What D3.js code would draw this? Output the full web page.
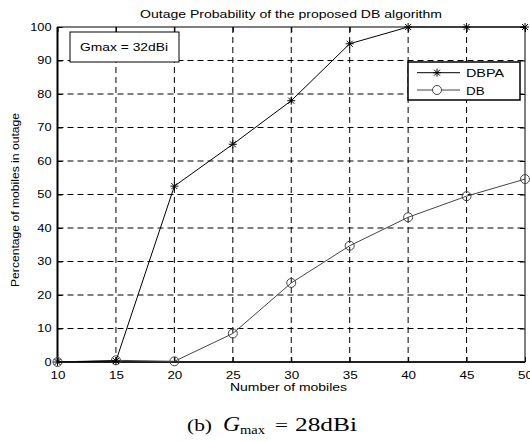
<!DOCTYPE html>
<html lang="en">
  <head>
    <meta charset="utf-8">
    <title>Outage Probability</title>
    <script src="https://d3js.org/d3.v7.js"></script>
    <style>
      body { margin: 0; background: #fff; }
    </style>
  </head>
  <body>
    <svg></svg>
  <script>

// data
  const mobiles = [10, 15, 20, 25, 30, 35, 40, 45, 50];
  const dbpa = [0, 0.3, 52.5, 65, 78, 95, 100, 100, 100];
  const db = [0, 0.5, 0.2, 8.5, 23.6, 34.7, 43.2, 49.5, 54.6];
  const xTicks = [10, 15, 20, 25, 30, 35, 40, 45, 50];
  const yTicks = [0, 10, 20, 30, 40, 50, 60, 70, 80, 90, 100];

  const w = 530;
  const h = 442;
  const margin = {top: 27, right: 5, bottom: 80, left: 57.5};
  const innerWidth = w - margin.left - margin.right;
  const innerHeight = h - margin.top - margin.bottom;
  const sans = "Arial, 'Liberation Sans', sans-serif";
  const serif = "'Liberation Serif', 'Times New Roman', serif";

  const svg = d3.select("svg")
      .attr("width", w)
      .attr("height", h)
      .style("font-family", sans);

  // the original picture is a bit stretched sideways, so widen the text
  function stretch(sel, k) {
    sel.each(function() {
      const len = this.getComputedTextLength();
      if (len > 0) {
        d3.select(this)
            .attr("textLength", len * k)
            .attr("lengthAdjust", "spacingAndGlyphs");
      }
    });
  }

  const xScale = d3.scaleLinear()
      .domain([10, 50])
      .range([0, innerWidth]);

  const yScale = d3.scaleLinear()
      .domain([0, 100])
      .range([innerHeight, 0]);

  const g = svg.append("g")
      .attr("transform", `translate(${margin.left}, ${margin.top})`);

// grid

  g.selectAll(".vgrid")
      .data(xTicks.slice(1, -1))
      .enter().append("line")
      .attr("x1", d => xScale(d)).attr("x2", d => xScale(d))
      .attr("y1", 0).attr("y2", innerHeight)
      .attr("stroke", "#000").attr("stroke-width", 1)
      .attr("stroke-dasharray", "6,4");

  g.selectAll(".hgrid")
      .data(yTicks.slice(1, -1))
      .enter().append("line")
      .attr("x1", 0).attr("x2", innerWidth)
      .attr("y1", d => yScale(d)).attr("y2", d => yScale(d))
      .attr("stroke", "#000").attr("stroke-width", 1)
      .attr("stroke-dasharray", "6,4");

// axes, ticks pointing inwards on all sides

  const xAx = g.append("g")
      .attr("transform", `translate(0, ${innerHeight})`)
      .call(d3.axisBottom(xScale).tickValues(xTicks).tickSize(-5).tickPadding(9));
  const topAx = g.append("g")
      .call(d3.axisTop(xScale).tickValues(xTicks).tickSize(-5));
  const yAx = g.append("g")
      .call(d3.axisLeft(yScale).tickValues(yTicks).tickSize(-5).tickPadding(6));
  const rightAx = g.append("g")
      .attr("transform", `translate(${innerWidth}, 0)`)
      .call(d3.axisRight(yScale).tickValues(yTicks).tickSize(-5));

  topAx.selectAll(".tick text").remove();
  rightAx.selectAll(".tick text").remove();
  g.selectAll(".domain").remove();
  g.selectAll(".tick line").attr("stroke", "#000");
  g.selectAll(".tick text")
      .attr("font-family", sans)
      .attr("fill", "#000");
  xAx.selectAll(".tick text").attr("font-size", 11);
  yAx.selectAll(".tick text").attr("font-size", 10.5);
  stretch(g.selectAll(".tick text"), 1.22);

  g.append("rect")
      .attr("x", 0).attr("y", 0)
      .attr("width", innerWidth).attr("height", innerHeight)
      .attr("fill", "none").attr("stroke", "#000").attr("stroke-width", 1);
  g.append("line")
      .attr("x1", 0).attr("x2", 0).attr("y1", 0).attr("y2", innerHeight)
      .attr("stroke", "#000").attr("stroke-width", 2);
  g.append("line")
      .attr("x1", 0).attr("x2", innerWidth).attr("y1", innerHeight).attr("y2", innerHeight)
      .attr("stroke", "#000").attr("stroke-width", 1.6);

// series

  const line = d3.line()
      .x((d, i) => xScale(mobiles[i]))
      .y(d => yScale(d));

  const starPath = "M-4,0H4M0,-4V4M-3,-3L3,3M-3,3L3,-3";

  g.append("path")
      .datum(db)
      .attr("d", line)
      .attr("fill", "none")
      .attr("stroke", "#444")
      .attr("stroke-width", 1);

  g.selectAll(".dbMark")
      .data(db)
      .enter().append("circle")
      .attr("cx", (d, i) => xScale(mobiles[i]))
      .attr("cy", d => yScale(d))
      .attr("r", 4.5)
      .attr("fill", "none")
      .attr("stroke", "#444")
      .attr("stroke-width", 1);

  g.append("path")
      .datum(dbpa)
      .attr("d", line)
      .attr("fill", "none")
      .attr("stroke", "#000")
      .attr("stroke-width", 1);

  g.selectAll(".dbpaMark")
      .data(dbpa)
      .enter().append("path")
      .attr("transform", (d, i) => `translate(${xScale(mobiles[i])}, ${yScale(d)})`)
      .attr("d", starPath)
      .attr("fill", "none")
      .attr("stroke", "#000")
      .attr("stroke-width", 1);

// Gmax annotation box

  svg.append("rect")
      .attr("x", 70).attr("y", 32)
      .attr("width", 109).attr("height", 30)
      .attr("fill", "#fff").attr("stroke", "#000").attr("stroke-width", 1);
  svg.append("text")
      .attr("x", 80).attr("y", 50.5)
      .attr("font-size", 11)
      .attr("textLength", 88).attr("lengthAdjust", "spacingAndGlyphs")
      .text("Gmax = 32dBi");

// legend

  const legend = svg.append("g")
      .attr("transform", "translate(408, 62)");
  legend.append("rect")
      .attr("width", 112).attr("height", 38)
      .attr("fill", "#fff").attr("stroke", "#000").attr("stroke-width", 1.5);

  legend.append("line")
      .attr("x1", 9).attr("x2", 52).attr("y1", 10.7).attr("y2", 10.7)
      .attr("stroke", "#000");
  legend.append("path")
      .attr("transform", "translate(29, 10.7)")
      .attr("d", starPath)
      .attr("fill", "none").attr("stroke", "#000");
  legend.append("text")
      .attr("x", 58).attr("y", 15)
      .attr("font-size", 11)
      .attr("textLength", 38).attr("lengthAdjust", "spacingAndGlyphs")
      .text("DBPA");

  legend.append("line")
      .attr("x1", 9).attr("x2", 52).attr("y1", 28).attr("y2", 28)
      .attr("stroke", "#444");
  legend.append("circle")
      .attr("cx", 29).attr("cy", 28).attr("r", 4.5)
      .attr("fill", "#fff").attr("stroke", "#444");
  legend.append("text")
      .attr("x", 58).attr("y", 32.5)
      .attr("font-size", 11)
      .text("DB")
      .call(stretch, 1.22);

// titles

  svg.append("text")
      .attr("x", 140).attr("y", 18)
      .attr("font-size", 11)
      .attr("textLength", 302).attr("lengthAdjust", "spacingAndGlyphs")
      .text("Outage Probability of the proposed DB algorithm");

  svg.append("text")
      .attr("x", 230).attr("y", 391)
      .attr("font-size", 10.5)
      .attr("textLength", 117).attr("lengthAdjust", "spacingAndGlyphs")
      .text("Number of mobiles");

  svg.append("text")
      .attr("transform", "translate(19, 200) rotate(-90)")
      .attr("text-anchor", "middle")
      .attr("font-size", 10)
      .attr("textLength", 174).attr("lengthAdjust", "spacingAndGlyphs")
      .text("Percentage of mobiles in outage");

// caption

  const caption = [
    {text: "(b)", x: 187, y: 431, size: 17, len: 25, italic: false},
    {text: "G", x: 223, y: 431, size: 21, len: 17, italic: true},
    {text: "max", x: 240, y: 434, size: 12, len: 25, italic: false},
    {text: "=", x: 275, y: 431, size: 17, len: 13, italic: false},
    {text: "28dBi", x: 295, y: 431, size: 18, len: 62, italic: false}
  ];
  svg.selectAll(".cap")
      .data(caption)
      .enter().append("text")
      .attr("x", d => d.x).attr("y", d => d.y)
      .attr("font-family", serif)
      .attr("font-size", d => d.size)
      .attr("font-style", d => d.italic ? "italic" : "normal")
      .attr("textLength", d => d.len).attr("lengthAdjust", "spacingAndGlyphs")
      .text(d => d.text);

    </script>
  </body>
</html>
